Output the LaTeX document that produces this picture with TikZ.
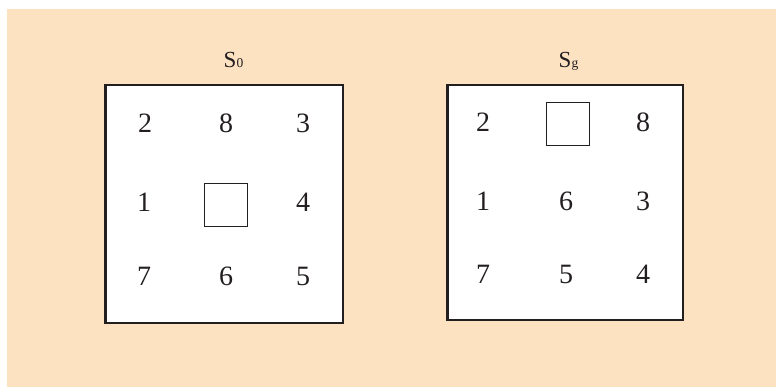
\documentclass[tikz,border=0pt]{standalone}
\usepackage{fontspec}
\setmainfont{Liberation Serif}
\definecolor{bgpeach}{HTML}{FDE2C2}
\definecolor{ink}{HTML}{231F20}
\tikzset{
  digit/.style={inner sep=0pt, text=ink, font=\fontsize{28}{28}\selectfont},
  board/.style={draw=ink, line width=2.5pt, fill=white},
  blank/.style={draw=ink, line width=1pt, fill=white, minimum size=43pt, inner sep=0pt},
  title/.style={inner sep=0pt, anchor=base, text=ink, font=\fontsize{23}{23}\selectfont}
}
\newcommand{\subsmall}[1]{{\fontsize{13.5}{13.5}\selectfont #1}}
\begin{document}
\begin{tikzpicture}[x=1pt,y=-1pt]
\useasboundingbox (0,0) rectangle (776,387);
\fill[bgpeach] (7,9) rectangle (776,387);
% left board
\draw[board] (105.25,85.25) rectangle (342.75,322.75);
\node[title] (t0) at (233.5,68) {S\subsmall{0}};
\node[digit] (a1) at (145,123) {2};
\node[digit] (a2) at (226,123) {8};
\node[digit] (a3) at (303,123) {3};
\node[digit] (a4) at (144,202) {1};
\node[blank] (a5) at (225.5,205) {};
\node[digit] (a6) at (303,202) {4};
\node[digit] (a7) at (144,276) {7};
\node[digit] (a8) at (226,276) {6};
\node[digit] (a9) at (303,276) {5};
% right board
\draw[board] (447.25,85.25) rectangle (682.75,319.75);
\node[title] (tg) at (568.5,68) {S\subsmall{g}};
\node[digit] (b1) at (483,122) {2};
\node[blank] (b2) at (567.5,124) {};
\node[digit] (b3) at (643,122) {8};
\node[digit] (b4) at (483,201) {1};
\node[digit] (b5) at (566,201) {6};
\node[digit] (b6) at (643,201) {3};
\node[digit] (b7) at (483,274) {7};
\node[digit] (b8) at (566,274) {5};
\node[digit] (b9) at (643,274) {4};
\end{tikzpicture}
\end{document}
